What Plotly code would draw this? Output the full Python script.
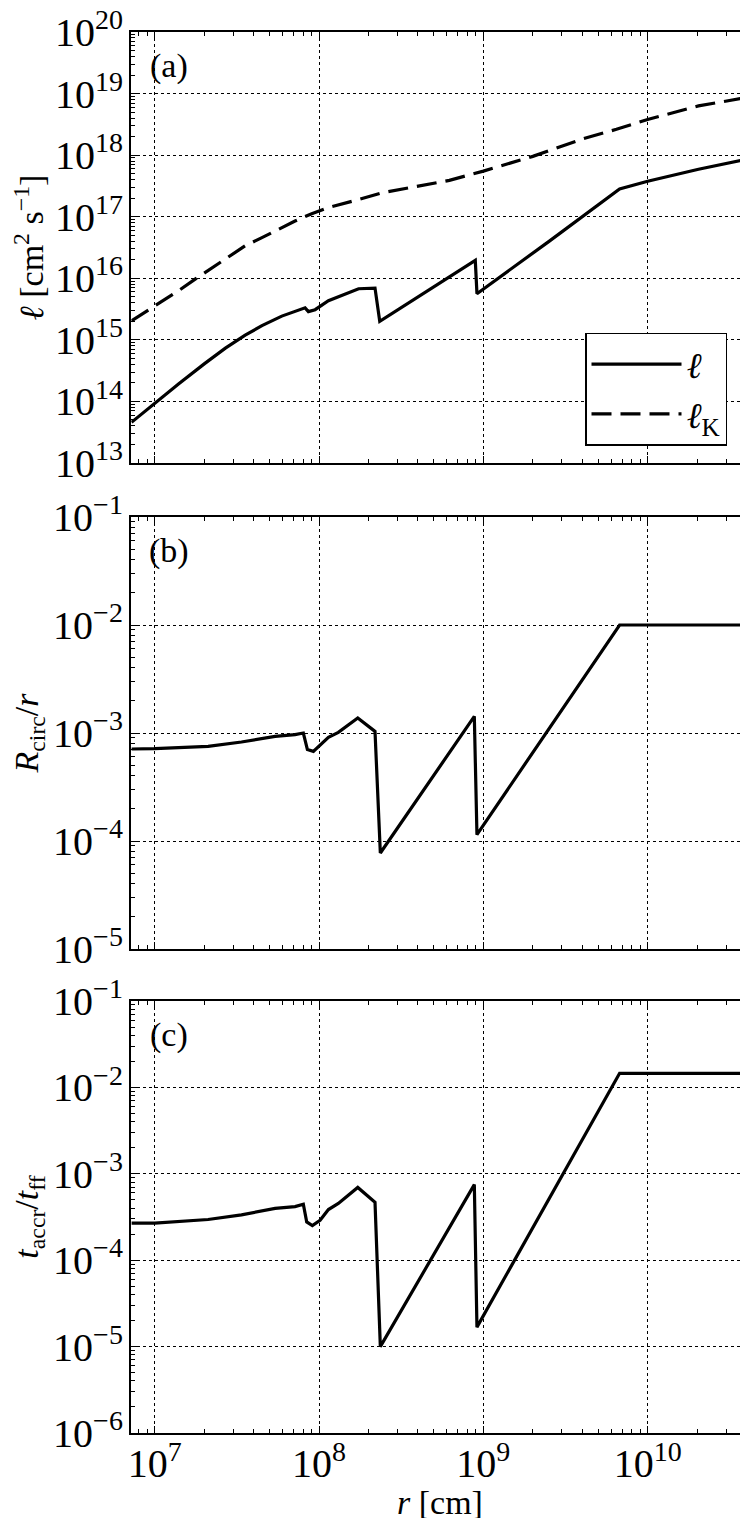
import plotly.graph_objects as go

FONT = "Liberation Serif, DejaVu Serif, serif"

# ---------------- data ----------------
# panel (a): specific angular momentum l and Keplerian l_K  [cm^2 s^-1]
r_ell = [7.21e6, 1.0e7, 1.40e7, 2.0e7, 2.69e7, 3.55e7, 4.49e7, 5.93e7, 7.14e7, 8.22e7,
         8.61e7, 9.46e7, 1.14e8, 1.37e8, 1.74e8, 2.19e8, 2.34e8, 8.93e8, 9.14e8, 2.51e9,
         6.75e9, 1.0e10, 2.04e10, 4.09e10]
ell = [4.57e13, 9.33e13, 1.93e14, 4.07e14, 7.33e14, 1.19e15, 1.70e15, 2.43e15, 2.92e15,
       3.31e15, 2.88e15, 3.09e15, 4.31e15, 5.25e15, 6.76e15, 6.92e15, 2.0e15, 1.95e16,
       5.62e15, 3.98e16, 2.82e17, 3.76e17, 5.9e17, 8.7e17]

r_ellK = [7.21e6, 1.0e7, 1.40e7, 1.77e7, 2.23e7, 2.81e7, 3.56e7, 4.49e7, 5.66e7, 7.14e7,
          9.02e7, 1.14e8, 1.74e8, 2.43e8, 6.21e8, 1.0e9, 2.0e9, 4.07e9, 6.46e9, 1.0e10,
          2.04e10, 4.09e10]
ellK = [2.04e15, 3.55e15, 6.31e15, 9.77e15, 1.48e16, 2.29e16, 3.39e16, 4.57e16, 6.31e16,
        8.51e16, 1.12e17, 1.41e17, 1.90e17, 2.45e17, 3.9e17, 5.5e17, 9.55e17, 1.86e18,
        2.63e18, 3.8e18, 6.3e18, 8.7e18]

# panel (b): R_circ / r
r_b = [7.21e6, 1.0e7, 2.11e7, 3.37e7, 5.40e7, 7.14e7, 8.02e7, 8.49e7, 9.23e7, 1.014e8,
       1.14e8, 1.31e8, 1.72e8, 2.19e8, 2.36e8, 8.81e8, 9.14e8, 6.75e9, 4.09e10]
rcirc = [7.11e-4, 7.16e-4, 7.53e-4, 8.26e-4, 9.31e-4, 9.66e-4, 1.0e-3, 7.02e-4, 6.76e-4,
         7.80e-4, 9.12e-4, 1.014e-3, 1.377e-3, 1.035e-3, 7.74e-5, 1.426e-3, 1.146e-4,
         1.0e-2, 1.0e-2]

# panel (c): t_accr / t_ff
r_c = [7.21e6, 1.0e7, 2.11e7, 3.37e7, 5.40e7, 7.14e7, 8.02e7, 8.41e7, 9.10e7, 1.014e8,
       1.14e8, 1.31e8, 1.72e8, 2.19e8, 2.36e8, 8.81e8, 9.14e8, 6.75e9, 4.09e10]
tratio = [2.69e-4, 2.69e-4, 2.96e-4, 3.35e-4, 3.97e-4, 4.17e-4, 4.45e-4, 2.77e-4, 2.52e-4,
          2.90e-4, 3.86e-4, 4.54e-4, 6.95e-4, 4.67e-4, 1.0e-5, 7.5e-4, 1.68e-5,
          1.456e-2, 1.456e-2]

x_range_log = [6.857, 10.609]
panel_labels = ["(a)", "(b)", "(c)"]

# ---------------- figure ----------------
W, H = 748, 1518
xd = [123.3 / W, 739.7 / W]
yd_a = [1 - 455 / H, 1 - 24 / H]
yd_b = [1 - 941 / H, 1 - 509 / H]
yd_c = [1 - 1425 / H, 1 - 993 / H]

LW = 3.2
fig = go.Figure()
fig.add_trace(go.Scatter(x=r_ell, y=ell, mode="lines", name="<i>ℓ</i>",
                         line=dict(color="black", width=LW), legendgroup="g1",
                         xaxis="x", yaxis="y"))
fig.add_trace(go.Scatter(x=r_ellK, y=ellK, mode="lines", name="<i>ℓ</i><sub>K</sub>",
                         line=dict(color="black", width=LW, dash="20px,9px"),
                         legendgroup="g2", xaxis="x", yaxis="y"))
fig.add_trace(go.Scatter(x=r_b, y=rcirc, mode="lines", showlegend=False,
                         line=dict(color="black", width=LW), xaxis="x2", yaxis="y2"))
fig.add_trace(go.Scatter(x=r_c, y=tratio, mode="lines", showlegend=False,
                         line=dict(color="black", width=LW), xaxis="x3", yaxis="y3"))

tickfont = dict(family=FONT, size=32, color="black")
titlefont = dict(family=FONT, size=34, color="black")


def axis_common():
    return dict(type="log", automargin=False, showline=True, linecolor="black", linewidth=2,
                mirror="allticks", ticks="inside", ticklen=7, tickwidth=1.2,
                tickcolor="black", showgrid=True, gridcolor="black", griddash="dot",
                gridwidth=1, zeroline=False, dtick=1, exponentformat="power",
                ticklabeloverflow="allow",
                minor=dict(ticks="inside", ticklen=4, tickwidth=1, tickcolor="black",
                           showgrid=False),
                tickfont=tickfont)


xa = axis_common()
xa.update(domain=xd, range=x_range_log, anchor="y", showticklabels=False)
xa2 = axis_common()
xa2.update(domain=xd, range=x_range_log, anchor="y2", matches="x", showticklabels=False)
xa3 = axis_common()
xa3.update(domain=xd, range=x_range_log, anchor="y3", matches="x", ticklabelstandoff=-4)

ya = axis_common()
ya.update(domain=yd_a, range=[13, 20], anchor="x",
          title=dict(text="<i>ℓ</i> [cm<sup>2</sup> s<sup>−1</sup>]", font=titlefont,
                     standoff=6))
ya2 = axis_common()
ya2.update(domain=yd_b, range=[-5, -1], anchor="x2",
           title=dict(text="<i>R</i><sub>circ</sub>/<i>r</i>", font=titlefont, standoff=6))
ya3 = axis_common()
ya3.update(domain=yd_c, range=[-6, -1], anchor="x3",
           title=dict(text="<i>t</i><sub>accr</sub>/<i>t</i><sub>ff</sub>", font=titlefont,
                      standoff=6))

annotations = []
for lab, yr in zip(panel_labels, ["y", "y2", "y3"]):
    xr = "x" if yr == "y" else "x" + yr[1:]
    annotations.append(dict(text=lab, xref=xr + " domain", yref=yr + " domain",
                            x=0.061, y=0.922, xanchor="center", yanchor="middle",
                            showarrow=False, font=dict(family=FONT, size=34, color="black")))
# x-axis title of the shared radius axis
annotations.append(dict(text="<i>r</i> [cm]", xref="x3 domain", yref="paper",
                        x=0.5, y=1 - 1494 / H, xanchor="center", yanchor="middle",
                        showarrow=False, font=titlefont))

fig.update_layout(
    width=W, height=H, margin=dict(l=0, r=0, t=0, b=0, autoexpand=False),
    paper_bgcolor="white", plot_bgcolor="white",
    xaxis=xa, xaxis2=xa2, xaxis3=xa3, yaxis=ya, yaxis2=ya2, yaxis3=ya3,
    annotations=annotations,
    font=dict(family=FONT, color="black"),
    showlegend=True,
    legend=dict(x=719 / W, xanchor="right", y=1 - 437.7 / H, yanchor="bottom",
                bgcolor="white", bordercolor="black", borderwidth=1.5,
                font=dict(family=FONT, size=36, color="black"),
                itemwidth=90, traceorder="grouped", tracegroupgap=0),
)

fig.write_html("out.html")
